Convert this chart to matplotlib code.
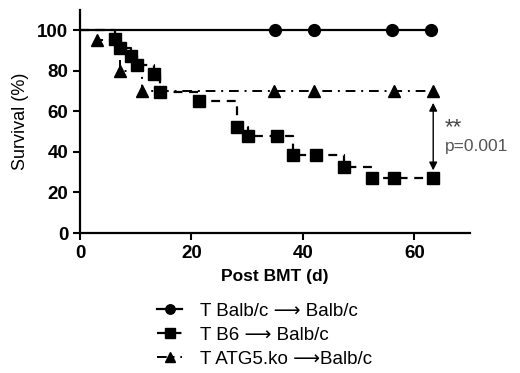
import matplotlib
matplotlib.use('Agg')
import matplotlib.pyplot as plt

plt.rcParams['font.family'] = ['Liberation Sans', 'DejaVu Sans']

# Survival data (days post BMT, survival %)
balb_days = [0, 35, 42, 56, 63]
balb_surv = [100, 100, 100, 100, 100]

b6_days = [0, 6.3, 7.2, 9.2, 10.2, 13.2, 14.4, 21.4, 28.2, 30.2, 35.3, 38.3, 42.3, 47.3, 52.4, 56.4, 63.4]
b6_surv = [100, 95.6, 91.3, 87.0, 82.6, 78.3, 69.6, 65.2, 52.2, 47.8, 47.8, 38.3, 38.3, 32.5, 27.0, 27.0, 27.0]

atg_days = [0, 3.0, 7.2, 11.1, 34.8, 42.0, 56.3, 63.4]
atg_surv = [100, 95.0, 80.0, 70.0, 70.0, 70.0, 70.0, 70.0]

labels = ['T Balb/c \u27f6 Balb/c', 'T B6 \u27f6 Balb/c', 'T ATG5.ko \u27f6Balb/c']

fig = plt.figure(figsize=(5.2, 3.73), dpi=100)
ax = fig.add_axes([0.1538, 0.3753, 0.75, 0.5986])

ax.plot(balb_days, balb_surv, color='black', lw=1.6, drawstyle='steps-post',
        marker='o', ms=8.5, markevery=list(range(1, len(balb_days))), label=labels[0])
ax.plot(b6_days, b6_surv, color='black', lw=1.6, ls=(0, (4, 3)), drawstyle='steps-post',
        marker='s', ms=8.5, markevery=list(range(1, len(b6_days))), label=labels[1])
ax.plot(atg_days, atg_surv, color='black', lw=1.4, ls=(0, (5, 3, 1, 3)), drawstyle='steps-post',
        marker='^', ms=8.5, markevery=list(range(1, len(atg_days))), label=labels[2])

# significance arrow
ax.annotate('', xy=(63.4, 29.5), xytext=(63.4, 65.5),
            arrowprops=dict(arrowstyle='<|-|>', color='black', lw=1.0, mutation_scale=12))
ax.text(65.5, 52, '**', fontsize=16, color='#444444', ha='left', va='center')
ax.text(65.5, 42.5, 'p=0.001', fontsize=12.5, color='#555555', ha='left', va='center')

ax.set_xlim(0, 70)
ax.set_ylim(0, 110)
ax.set_xticks([0, 20, 40, 60])
ax.set_yticks([0, 20, 40, 60, 80, 100])
ax.tick_params(direction='out', length=5, width=1.5, labelsize=13.5)
for lab in ax.get_xticklabels() + ax.get_yticklabels():
    lab.set_fontweight('bold')
ax.spines['top'].set_visible(False)
ax.spines['right'].set_visible(False)
ax.spines['left'].set_linewidth(1.6)
ax.spines['bottom'].set_linewidth(1.6)

ax.set_xlabel('Post BMT (d)', fontsize=12.5, fontweight='bold', labelpad=5)
ax.set_ylabel('Survival (%)', fontsize=13, labelpad=6)

fig.legend(loc='upper left', bbox_to_anchor=(148 / 520, 1 - 293 / 373), frameon=False,
           fontsize=13.5, handlelength=1.3, handletextpad=1.0, labelspacing=0.38,
           borderpad=0, markerscale=0.8)

fig.savefig('out.png', dpi=100)
